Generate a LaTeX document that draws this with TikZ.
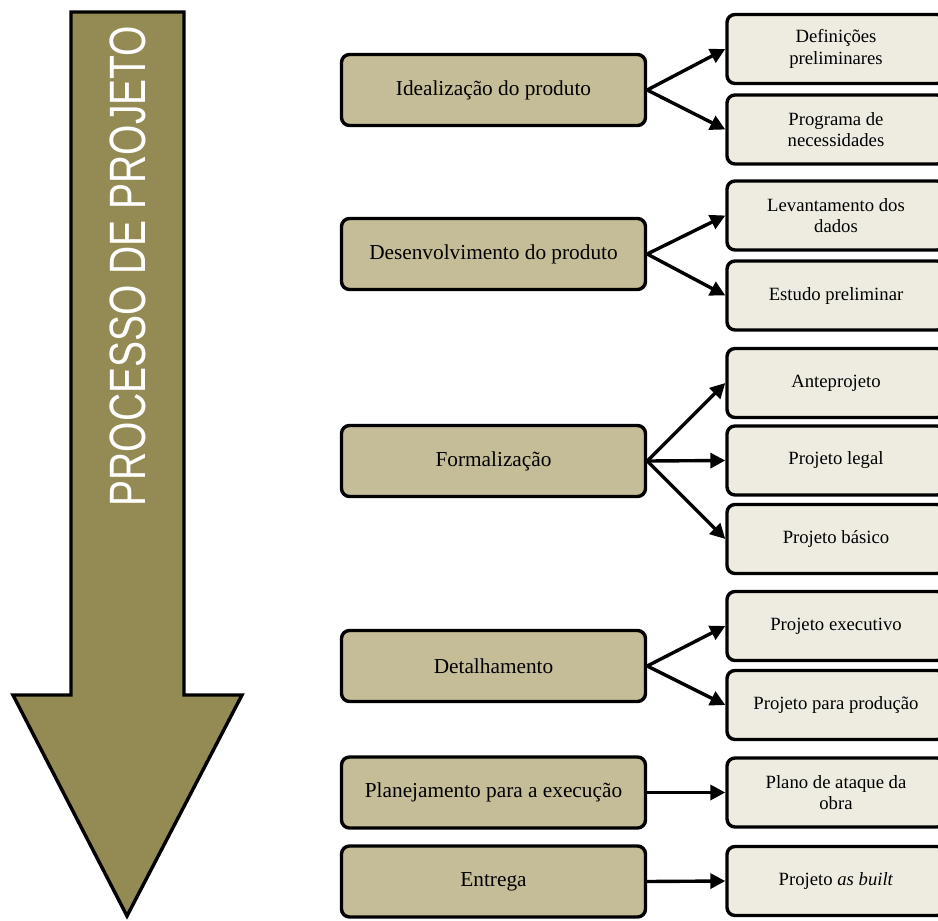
\documentclass[tikz,border=0pt]{standalone}
\usepackage{fontspec}
\usepackage{graphicx}
\setmainfont{Liberation Serif}
\newfontfamily\headfont{Liberation Sans}
\usetikzlibrary{arrows.meta}
\definecolor{olivedark}{HTML}{948A54}
\definecolor{tanbox}{HTML}{C4BD97}
\definecolor{paperbox}{HTML}{EEECE1}
\begin{document}
\begin{tikzpicture}[x=1pt,y=-1pt,
  phase/.style={draw=black, line width=3.4pt, fill=tanbox, rounded corners=8pt,
    minimum width=304pt, minimum height=71pt, inner sep=0pt, align=center,
    font=\fontsize{21.3}{24}\selectfont},
  task/.style={draw=black, line width=3.4pt, fill=paperbox, rounded corners=8pt,
    minimum width=218pt, minimum height=69pt, inner sep=0pt, align=center,
    font=\fontsize{18.7}{21.7}\selectfont},
  link/.style={line width=3.4pt, -{Triangle[length=15pt,width=15pt]}}]
\useasboundingbox (0,0) rectangle (938,921);
\clip (0,0) rectangle (938,921);

% big downward arrow
\draw[line width=3.4pt, fill=olivedark, line join=miter]
  (71,12) -- (184,12) -- (184,695) -- (242,695) -- (127,916)
  -- (13,695) -- (71,695) -- cycle;
\node[rotate=90, text=white, inner sep=0pt] (title) at (128,266)
  {\scalebox{1}[1.31]{\headfont\fontsize{39}{39}\selectfont PROCESSO DE PROJETO}};

% phases
\node[phase] (p1) at (493.5,90)    {Idealização do produto};
\node[phase] (p2) at (493.5,254)   {Desenvolvimento do produto};
\node[phase] (p3) at (493.5,461)   {Formalização};
\node[phase] (p4) at (493.5,666)   {Detalhamento};
\node[phase] (p5) at (493.5,792.5) {Planejamento para a execução};
\node[phase] (p6) at (493.5,881.5) {Entrega};

% products of each phase
\node[task] (t1)  at (836,49)    {Definições\\preliminares};
\node[task] (t2)  at (836,129.5) {Programa de\\necessidades};
\node[task] (t3)  at (836,215.5) {Levantamento dos\\dados};
\node[task] (t4)  at (836,295.5) {Estudo preliminar};
\node[task] (t5)  at (836,383)   {Anteprojeto};
\node[task] (t6)  at (836,460.5) {Projeto legal};
\node[task] (t7)  at (836,539)   {Projeto básico};
\node[task] (t8)  at (836,626)   {Projeto executivo};
\node[task] (t9)  at (836,705)   {Projeto para produção};
\node[task] (t10) at (836,792.5) {Plano de ataque da\\obra};
\node[task] (t11) at (836,881)   {Projeto \textit{as built}};

% connectors
\draw[link] (p1.east) -- (t1.west);
\draw[link] (p1.east) -- (t2.west);
\draw[link] (p2.east) -- (t3.west);
\draw[link] (p2.east) -- (t4.west);
\draw[link] (p3.east) -- (t5.west);
\draw[link] (p3.east) -- (t6.west);
\draw[link] (p3.east) -- (t7.west);
\draw[link] (p4.east) -- (t8.west);
\draw[link] (p4.east) -- (t9.west);
\draw[link] (p5.east) -- (t10.west);
\draw[link] (p6.east) -- (t11.west);
\end{tikzpicture}
\end{document}
